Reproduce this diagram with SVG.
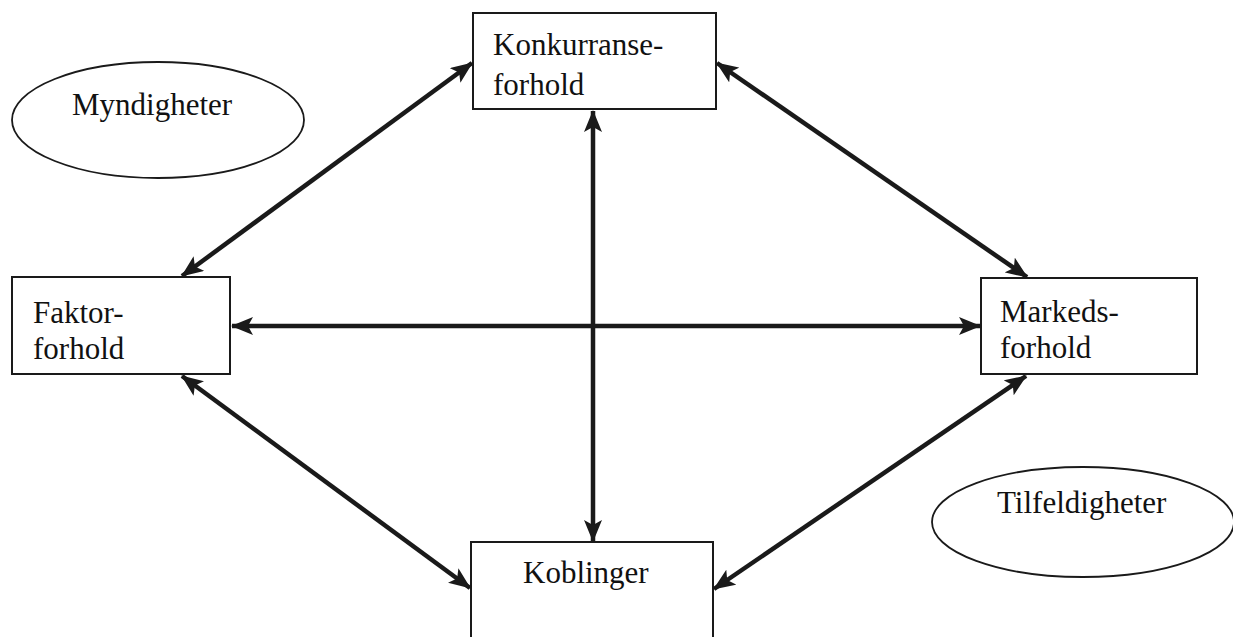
<svg xmlns="http://www.w3.org/2000/svg" width="1233" height="637" viewBox="0 0 1233 637">
<style>
.box{fill:#fff;stroke:#1a1a1a;stroke-width:2}
.ell{fill:#fff;stroke:#1a1a1a;stroke-width:1.8}
.t{font-family:"Liberation Serif","Times New Roman",serif;font-size:31px;fill:#111}
.c{stroke:#1a1a1a;stroke-width:4.5;fill:none;marker-start:url(#ah);marker-end:url(#ah)}
</style>
<defs>
<marker id="ah" viewBox="0 0 22 18" refX="21" refY="9" markerWidth="22" markerHeight="18" markerUnits="userSpaceOnUse" orient="auto-start-reverse">
<path d="M0,0 L22,9 L0,18 L5,9 Z" fill="#1a1a1a"/>
</marker>
</defs>
<rect width="1233" height="637" fill="#fff"/>
<g id="myndigheter">
<ellipse class="ell" cx="158" cy="120" rx="146" ry="58"/>
<text class="t" x="72" y="115">Myndigheter</text>
</g>
<g id="tilfeldigheter">
<ellipse class="ell" cx="1083" cy="522" rx="151" ry="55"/>
<text class="t" x="997" y="513">Tilfeldigheter</text>
</g>
<g id="konkurranse">
<rect class="box" x="473" y="13" width="243" height="96"/>
<text class="t" x="493" y="55">Konkurranse-</text>
<text class="t" x="493" y="95">forhold</text>
</g>
<g id="faktor">
<rect class="box" x="12" y="277" width="218" height="97"/>
<text class="t" x="33" y="323">Faktor-</text>
<text class="t" x="33" y="359">forhold</text>
</g>
<g id="markeds">
<rect class="box" x="981" y="278" width="216" height="96"/>
<text class="t" x="1000" y="322">Markeds-</text>
<text class="t" x="1000" y="358">forhold</text>
</g>
<g id="koblinger">
<rect class="box" x="471" y="542" width="242" height="110"/>
<text class="t" x="523" y="583">Koblinger</text>
</g>
<g id="connectors">
<line class="c" x1="182" y1="276" x2="472" y2="63"/>
<line class="c" x1="717" y1="63" x2="1027" y2="277"/>
<line class="c" x1="593" y1="111" x2="593" y2="541"/>
<line class="c" x1="232" y1="326" x2="980" y2="326"/>
<line class="c" x1="182" y1="376" x2="470" y2="588"/>
<line class="c" x1="1026" y1="376" x2="714" y2="589"/>
</g>
</svg>
